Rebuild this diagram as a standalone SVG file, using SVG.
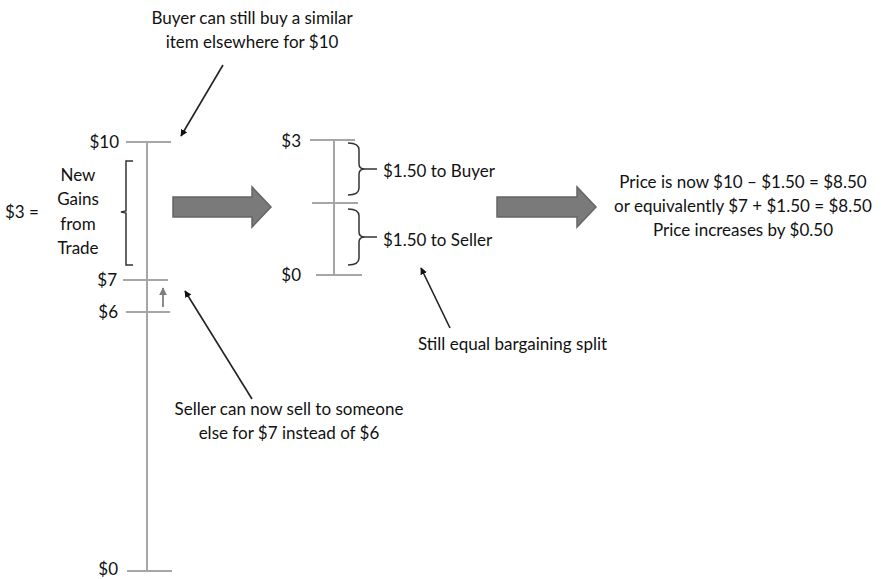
<svg xmlns="http://www.w3.org/2000/svg" width="881" height="579" viewBox="0 0 881 579">
<defs>
<style>
.t{font-family:Lato,"Liberation Sans",sans-serif;font-size:17px;fill:#111}
.ax{stroke:#a6a6a6;stroke-width:2;fill:none}
.br{stroke:#333;stroke-width:1.5;fill:none}
.ptr{stroke:#222;stroke-width:1.6;fill:none}
.big{fill:#7a7a7a;stroke:#666;stroke-width:1.5}
</style>
<marker id="ah" viewBox="0 0 10 10" refX="9" refY="5" markerWidth="7" markerHeight="7" orient="auto" markerUnits="userSpaceOnUse">
<path d="M0,0 L10,5 L0,10 z" fill="#111"/>
</marker>
<marker id="gh" viewBox="0 0 10 10" refX="9" refY="5" markerWidth="8" markerHeight="8" orient="auto" markerUnits="userSpaceOnUse">
<path d="M0,0 L10,5 L0,10 z" fill="#7f7f7f"/>
</marker>
</defs>
<rect width="881" height="579" fill="#fff"/>

<g id="left-axis">
<line class="ax" x1="147" y1="142" x2="147" y2="571"/>
<line class="ax" x1="126" y1="142" x2="171" y2="142"/>
<line class="ax" x1="123" y1="280" x2="168" y2="280"/>
<line class="ax" x1="126" y1="312" x2="170" y2="312"/>
<line class="ax" x1="127" y1="571" x2="172" y2="571"/>
<text class="t" x="119" y="148" text-anchor="end">$10</text>
<text class="t" x="117" y="286" text-anchor="end">$7</text>
<text class="t" x="118" y="318" text-anchor="end">$6</text>
<text class="t" x="118" y="575" text-anchor="end">$0</text>
</g>

<g id="gains-bracket">
<path class="br" d="M133,161 H126 V211 L121,212 L126,213 V265 H133"/>
<text class="t" x="78" y="181" text-anchor="middle">New</text>
<text class="t" x="78" y="205" text-anchor="middle">Gains</text>
<text class="t" x="78" y="230" text-anchor="middle">from</text>
<text class="t" x="78" y="254" text-anchor="middle">Trade</text>
<text class="t" x="5" y="218">$3 =</text>
</g>

<g id="small-up-arrow">
<line x1="163" y1="307" x2="163" y2="288" stroke="#7f7f7f" stroke-width="1.8" marker-end="url(#gh)"/>
</g>

<g id="middle-axis">
<line class="ax" x1="334" y1="140" x2="334" y2="275"/>
<line class="ax" x1="310" y1="140" x2="355" y2="140"/>
<line class="ax" x1="312" y1="203" x2="358" y2="203"/>
<line class="ax" x1="316" y1="275" x2="362" y2="275"/>
<text class="t" x="301" y="147" text-anchor="end">$3</text>
<text class="t" x="301" y="281" text-anchor="end">$0</text>
</g>

<g id="buyer-brace">
<path class="br" d="M348,143 Q359,143 359,150 V164 Q359,169 365,169 H377 M365,169 Q359,169 359,174 V188 Q359,195 348,195"/>
<text class="t" x="383" y="177">$1.50 to Buyer</text>
</g>

<g id="seller-brace">
<path class="br" d="M348,209 Q359,209 359,216 V232 Q359,237 365,237 H377 M365,237 Q359,237 359,242 V258 Q359,265 348,265"/>
<text class="t" x="383" y="246">$1.50 to Seller</text>
</g>

<g id="big-arrow-1">
<path class="big" d="M173,197 H252 V187 L271,207 L252,227 V217 H173 z"/>
</g>
<g id="big-arrow-2">
<path class="big" d="M497,197 H577 V187 L596,207 L577,227 V217 H497 z"/>
</g>

<g id="note-buyer">
<text class="t" x="252" y="24" text-anchor="middle">Buyer can still buy a similar</text>
<text class="t" x="252" y="48" text-anchor="middle">item elsewhere for $10</text>
</g>
<g id="note-seller">
<text class="t" x="289" y="415" text-anchor="middle">Seller can now sell to someone</text>
<text class="t" x="289" y="439" text-anchor="middle">else for $7 instead of $6</text>
</g>
<g id="note-split">
<text class="t" x="418" y="350">Still equal bargaining split</text>
</g>
<g id="note-price">
<text class="t" x="743" y="188" text-anchor="middle">Price is now $10 – $1.50 = $8.50</text>
<text class="t" x="743" y="212" text-anchor="middle">or equivalently $7 + $1.50 = $8.50</text>
<text class="t" x="743" y="236" text-anchor="middle">Price increases by $0.50</text>
</g>

<g id="connectors">
<line class="ptr" x1="223" y1="65" x2="181" y2="136" marker-end="url(#ah)"/>
<line class="ptr" x1="252" y1="399" x2="185" y2="291" marker-end="url(#ah)"/>
<line class="ptr" x1="450" y1="328" x2="421" y2="268" marker-end="url(#ah)"/>
</g>
</svg>
